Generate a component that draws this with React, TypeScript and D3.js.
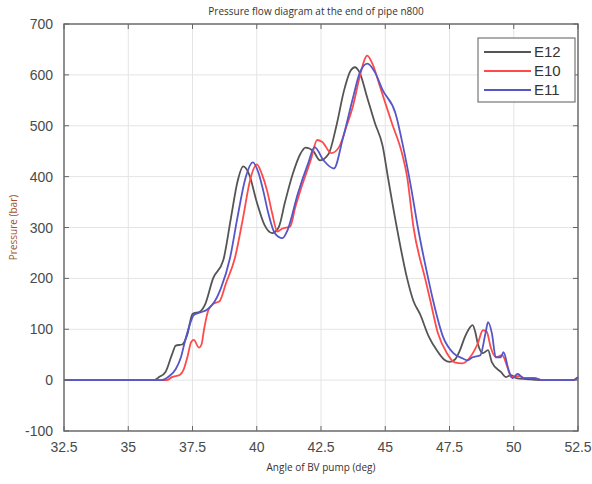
import React from "react";
import * as d3 from "d3";

const seriesNames = ["E12", "E10", "E11"];
const seriesColors = ["#555555", "#ff4a4a", "#5656c8"];

const e12: [number, number][] = [
  [32.5, 0], [36.0, 0], [36.2, 6], [36.45, 16], [36.7, 50], [36.85, 68], [37.1, 70], [37.3, 90],
  [37.5, 130], [37.8, 135], [38.0, 150], [38.3, 200], [38.7, 236], [39.0, 320], [39.25, 390],
  [39.47, 420], [39.7, 405], [40.0, 350], [40.3, 305], [40.6, 289], [40.85, 300], [41.1, 350],
  [41.4, 405], [41.7, 445], [41.9, 457], [42.2, 450], [42.46, 432], [42.8, 445], [43.1, 500],
  [43.4, 570], [43.65, 608], [43.82, 615], [44.0, 605], [44.3, 555], [44.6, 505], [44.9, 460],
  [45.1, 400], [45.45, 300], [45.85, 200], [46.1, 155], [46.35, 130], [46.7, 85], [47.0, 59],
  [47.3, 40], [47.5, 36], [47.7, 40], [47.9, 58], [48.1, 85], [48.25, 100], [48.4, 108],
  [48.5, 95], [48.6, 72], [48.8, 53], [49.0, 59], [49.15, 35], [49.5, 16], [49.7, 6],
  [49.9, 10], [50.1, 4], [50.5, 2], [51.0, 0], [52.3, 0], [52.5, 6],
];

const e10: [number, number][] = [
  [32.5, 0], [36.5, 0], [36.7, 6], [37.0, 10], [37.15, 20], [37.3, 45], [37.45, 75], [37.55, 79],
  [37.75, 64], [37.85, 70], [37.95, 100], [38.1, 135], [38.3, 150], [38.55, 155], [38.8, 190],
  [39.15, 240], [39.47, 320], [39.74, 393], [40.0, 424], [40.2, 405], [40.4, 373], [40.6, 328],
  [40.8, 292], [41.0, 298], [41.3, 302], [41.5, 340], [41.7, 373], [42.1, 432], [42.35, 472],
  [42.55, 468], [42.9, 446], [43.2, 458], [43.5, 500], [43.75, 540], [44.0, 595], [44.3, 638],
  [44.5, 622], [44.8, 576], [45.26, 505], [45.65, 446], [45.85, 400], [46.1, 300], [46.55, 200],
  [46.75, 157], [47.05, 92], [47.4, 53], [47.7, 35], [48.0, 33], [48.3, 45], [48.6, 72],
  [48.8, 98], [48.95, 95], [49.1, 65], [49.3, 45], [49.55, 49], [49.75, 26], [49.9, 6],
  [50.2, 8], [50.4, 4], [50.8, 4], [51.1, 0], [52.3, 0], [52.5, 4],
];

const e11: [number, number][] = [
  [32.5, 0], [36.3, 0], [36.6, 8], [36.85, 22], [37.05, 45], [37.2, 75], [37.4, 110], [37.55, 128],
  [37.8, 133], [38.05, 138], [38.3, 150], [38.6, 180], [38.96, 240], [39.25, 320], [39.55, 395],
  [39.85, 428], [40.05, 410], [40.25, 373], [40.45, 328], [40.7, 289], [41.0, 279], [41.2, 295],
  [41.6, 367], [42.0, 426], [42.25, 458], [42.6, 432], [43.0, 416], [43.35, 475], [43.75, 556],
  [44.0, 603], [44.3, 622], [44.6, 605], [44.9, 570], [45.4, 524], [45.7, 458], [46.0, 380],
  [46.27, 300], [46.67, 200], [46.86, 157], [47.25, 85], [47.65, 53], [48.0, 43], [48.2, 39],
  [48.4, 45], [48.7, 49], [48.9, 92], [49.0, 114], [49.15, 92], [49.3, 45], [49.5, 45],
  [49.6, 55], [49.8, 20], [49.95, 4], [50.15, 12], [50.4, 4], [50.8, 4], [51.1, 0], [52.3, 0],
  [52.5, 6],
];

const seriesData = [e12, e10, e11];
const xTicks = [32.5, 35, 37.5, 40, 42.5, 45, 47.5, 50, 52.5];
const yTicks = [-100, 0, 100, 200, 300, 400, 500, 600, 700];

const title = "Pressure flow diagram at the end of pipe n800";
const xLabel = "Angle of BV pump (deg)";
const yLabel = "Pressure (bar)";

export default function App() {
  const W = 592, H = 484;
  const L = 64, R = 578, T = 24, B = 431;
  const x = d3.scaleLinear().domain([32.5, 52.5]).range([L, R]);
  const y = d3.scaleLinear().domain([-100, 700]).range([B, T]);
  const line = d3
    .line<[number, number]>()
    .x((d) => x(d[0]))
    .y((d) => y(d[1]))
    .curve(d3.curveMonotoneX);
  const tickFont = "'Liberation Sans', Arial, sans-serif";
  const lblFont = "'Open Sans', sans-serif";

  return (
    <svg width={W} height={H} style={{ position: "absolute", left: 0, top: 0, background: "#fff" }}>
      <rect x={0} y={0} width={W} height={H} fill="#fff" />
      {/* grid */}
      {xTicks.map((t) => (
        <line key={"gx" + t} x1={x(t)} x2={x(t)} y1={T} y2={B} stroke="#e4e4e4" strokeWidth={1} />
      ))}
      {yTicks.map((t) => (
        <line key={"gy" + t} x1={L} x2={R} y1={y(t)} y2={y(t)} stroke="#e4e4e4" strokeWidth={1} />
      ))}
      {/* series */}
      {seriesData.map((d, i) => (
        <path key={seriesNames[i]} d={line(d) || ""} fill="none" stroke={seriesColors[i]} strokeWidth={1.8} strokeLinejoin="round" />
      ))}
      {/* frame */}
      <rect x={L} y={T} width={R - L} height={B - T} fill="none" stroke="#666" strokeWidth={1.4} />
      {/* ticks */}
      {xTicks.map((t) => (
        <g key={"tx" + t}>
          <line x1={x(t)} x2={x(t)} y1={B} y2={B - 5} stroke="#666" />
          <line x1={x(t)} x2={x(t)} y1={T} y2={T + 5} stroke="#666" />
          <text x={x(t)} y={B + 21} textAnchor="middle" fontFamily={tickFont} fontSize={14} fill="#4a4a4a">
            {t}
          </text>
        </g>
      ))}
      {yTicks.map((t) => (
        <g key={"ty" + t}>
          <line x1={L} x2={L + 5} y1={y(t)} y2={y(t)} stroke="#666" />
          <line x1={R} x2={R - 5} y1={y(t)} y2={y(t)} stroke="#666" />
          <text x={L - 11} y={y(t) + 5} textAnchor="end" fontFamily={tickFont} fontSize={14} fill="#4a4a4a">
            {t}
          </text>
        </g>
      ))}
      {/* labels */}
      <text x={316} y={15} textAnchor="middle" fontFamily={lblFont} fontSize={10} fill="#333">
        {title}
      </text>
      <text x={321} y={471} textAnchor="middle" fontFamily={lblFont} fontSize={10} fill="#3a3030">
        {xLabel}
      </text>
      <text
        transform={`translate(17, ${(T + B) / 2}) rotate(-90)`}
        textAnchor="middle"
        fontFamily={lblFont}
        fontSize={10}
        fill="#a0522d"
      >
        {yLabel}
      </text>
      {/* legend */}
      <rect x={478} y={38} width={97} height={64} fill="#fff" stroke="#777" strokeWidth={1.2} />
      {seriesNames.map((n, i) => (
        <g key={"lg" + n}>
          <line x1={484} x2={531} y1={52 + i * 19} y2={52 + i * 19} stroke={seriesColors[i]} strokeWidth={1.8} />
          <text x={534} y={57 + i * 19} fontFamily={tickFont} fontSize={15} fill="#333">
            {n}
          </text>
        </g>
      ))}
    </svg>
  );
}
